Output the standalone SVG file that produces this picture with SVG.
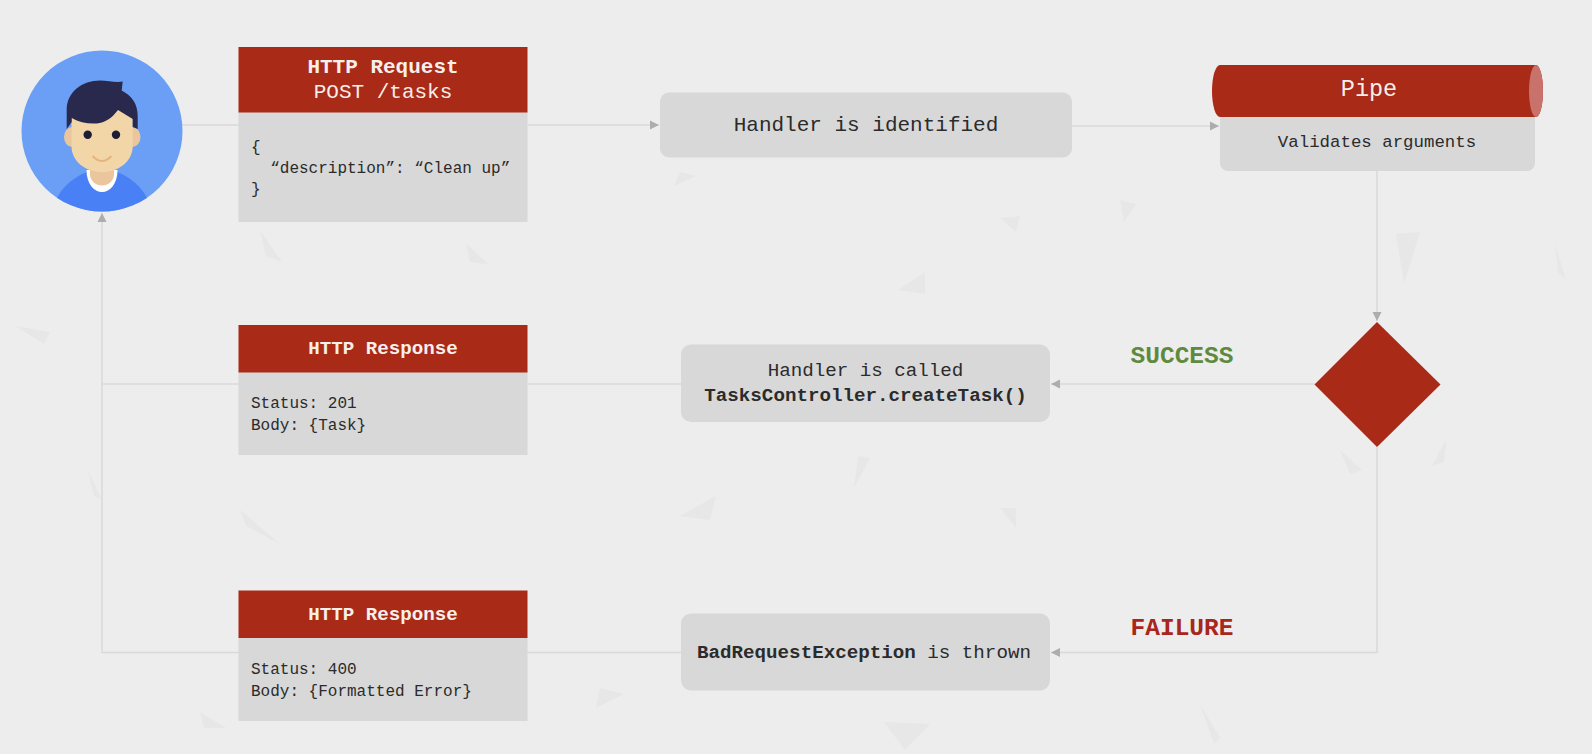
<svg xmlns="http://www.w3.org/2000/svg" width="1592" height="754" viewBox="0 0 1592 754">
<style>
text{font-family:"Liberation Mono","DejaVu Sans Mono",monospace;fill:#2b2b2b}
.hd{fill:#a92a16}
.bd{fill:#d8d8d8}
.ln{fill:none;stroke:#d9d9d9;stroke-width:1.5}
.w{fill:#f6efec;text-anchor:middle}
.c{text-anchor:middle}
.b{font-weight:700}
.s16{font-size:16px}
.s19{font-size:19.200px}
.s21{font-size:21px}
.sh{fill:#e7e7e7}
</style>
<defs>
<marker id="ah" markerWidth="10" markerHeight="10" refX="9" refY="5" orient="auto" markerUnits="userSpaceOnUse"><path d="M0 0.5L9 5L0 9.5Z" fill="#adadad"/></marker>
<clipPath id="cc"><circle cx="102" cy="131" r="80.5"/></clipPath>
</defs>
<rect width="1592" height="754" fill="#ededed"/>
<g id="background">
<path class="sh" d="M260 230L282 262L266 256Z"/><path class="sh" d="M466 243L488 264L470 262Z"/><path class="sh" d="M15 326L50 332L44 344Z"/><path class="sh" d="M1396 234L1420 232L1404 284Z"/><path class="sh" d="M1555 244L1566 280L1558 272Z"/>
<path class="sh" d="M898 290L925 272L925 294Z"/><path class="sh" d="M1000 218L1020 216L1016 232Z"/><path class="sh" d="M240 510L280 544L246 526Z"/><path class="sh" d="M680 516L716 496L710 520Z"/><path class="sh" d="M1000 508L1016 508L1016 528Z"/>
<path class="sh" d="M858 456L870 458L854 488Z"/><path class="sh" d="M884 722L930 724L905 750Z"/><path class="sh" d="M1340 450L1362 470L1350 474Z"/><path class="sh" d="M88 470L102 500L94 496Z"/><path class="sh" d="M1446 440L1432 466L1444 462Z"/>
<path class="sh" d="M1200 704L1214 744L1220 738Z"/><path class="sh" d="M200 712L226 728L204 728Z"/><path class="sh" d="M1120 200L1136 204L1124 222Z"/><path class="sh" d="M600 688L624 694L596 708Z"/><path class="sh" d="M680 172L696 176L674 186Z"/>
</g>
<g id="connectors">
<path class="ln" d="M182 125H239"/>
<path class="ln" d="M528 125H659" marker-end="url(#ah)"/>
<path class="ln" d="M1072 126H1219" marker-end="url(#ah)"/>
<path class="ln" d="M1377 171V321" marker-end="url(#ah)"/>
<path class="ln" d="M1315 384H1051" marker-end="url(#ah)"/>
<path class="ln" d="M681 384H102"/>
<path class="ln" d="M1377 447V652.500H1051" marker-end="url(#ah)"/>
<path class="ln" d="M681 652.500H102V213" marker-end="url(#ah)"/>
</g>
<g id="user">
<circle cx="102" cy="131" r="80.500" fill="#6b9ff6"/>
<g clip-path="url(#cc)">
<path d="M56 200C62 186 76 176 87 172H117C128 176 142 186 148 200V215H56Z" fill="#4a80f5"/>
<path d="M86.500 170C86.500 184 94 192 102 192C110 192 117.500 184 117.500 170Z" fill="#fff"/>
<path d="M90 160H114V174C114 181 108 185.500 102 185.500C96 185.500 90 181 90 174Z" fill="#ebc59b"/>
</g>
<ellipse cx="72" cy="137" rx="8" ry="10" fill="#ebc59b"/><ellipse cx="132.500" cy="137" rx="8" ry="10" fill="#ebc59b"/>
<path d="M71.500 108H132.700V146C132.700 162 118 172 102 172C86 172 71.500 162 71.500 146Z" fill="#f2d6a7"/>
<path d="M66.700 129V110C66.700 92 82 80.500 100 80.500C108 80.500 116 83 122.700 81.500L121.700 90.500C132 96 137.700 104 137.700 116V129L132.700 127V119L118 110C112 118 105 123 96.700 123.500C87 124 79 122 71.700 118V122Z" fill="#28294d"/>
<circle cx="87.700" cy="134.700" r="4.200" fill="#1d1d33"/><circle cx="116" cy="134.700" r="4.200" fill="#1d1d33"/>
<path d="M92.500 156Q102 166 111.500 156" fill="none" stroke="#e5b57f" stroke-width="2"/>
</g>
<g id="request">
<rect class="bd" x="238.500" y="112" width="289" height="110"/>
<rect class="hd" x="238.500" y="47" width="289" height="65.500"/>
<text class="w b s21" x="383" y="72.500">HTTP Request</text>
<text class="w s21" x="383" y="98">POST /tasks</text>
<text class="s16" x="251" y="152">{</text>
<text class="s16" x="251" y="173" xml:space="preserve">  “description”: “Clean up”</text>
<text class="s16" x="251" y="194">}</text>
</g>
<g id="handler-identified">
<rect class="bd" x="660" y="92.500" width="412" height="65" rx="9"/>
<text class="c s21" x="866" y="130.500">Handler is identified</text>
</g>
<g id="pipe">
<path class="bd" d="M1220 110H1535V163a8 8 0 0 1-8 8H1228a8 8 0 0 1-8-8Z"/>
<path class="hd" d="M1220 65H1536A7 26 0 0 1 1536 117H1220A8 26 0 0 1 1220 65Z"/>
<ellipse cx="1536" cy="91" rx="7" ry="26" fill="#c9716b"/>
<text class="w s21" x="1369" y="96" style="font-size:23.500px">Pipe</text>
<text class="c" x="1377" y="147" style="font-size:17.400px">Validates arguments</text>
</g>
<g id="decision">
<path class="hd" d="M1377 322L1440.500 384.500L1377 447L1314.500 384.500Z"/>
</g>
<g id="handler-called">
<rect class="bd" x="681" y="344.500" width="369" height="77.500" rx="10"/>
<text class="c s19" x="865.500" y="376">Handler is called</text>
<text class="c b s19" x="865.500" y="400.500">TasksController.createTask()</text>
</g>
<g id="response-success">
<rect class="bd" x="238.500" y="372" width="289" height="83"/>
<rect class="hd" x="238.500" y="325" width="289" height="47.500"/>
<text class="w b s19" x="383" y="354">HTTP Response</text>
<text class="s16" x="251" y="408">Status: 201</text>
<text class="s16" x="251" y="430">Body: {Task}</text>
</g>
<g id="exception">
<rect class="bd" x="681" y="613.500" width="369" height="77" rx="10"/>
<text class="s19" x="697" y="657.500"><tspan class="b">BadRequestException</tspan> is thrown</text>
</g>
<g id="response-failure">
<rect class="bd" x="238.500" y="638" width="289" height="83"/>
<rect class="hd" x="238.500" y="590.500" width="289" height="47.500"/>
<text class="w b s19" x="383" y="620">HTTP Response</text>
<text class="s16" x="251" y="674">Status: 400</text>
<text class="s16" x="251" y="696">Body: {Formatted Error}</text>
</g>
<text class="c b" x="1182" y="363" style="font-size:24.500px;fill:#5f8a3e">SUCCESS</text>
<text class="c b" x="1182" y="635" style="font-size:24.500px;fill:#a8261a">FAILURE</text>
</svg>
